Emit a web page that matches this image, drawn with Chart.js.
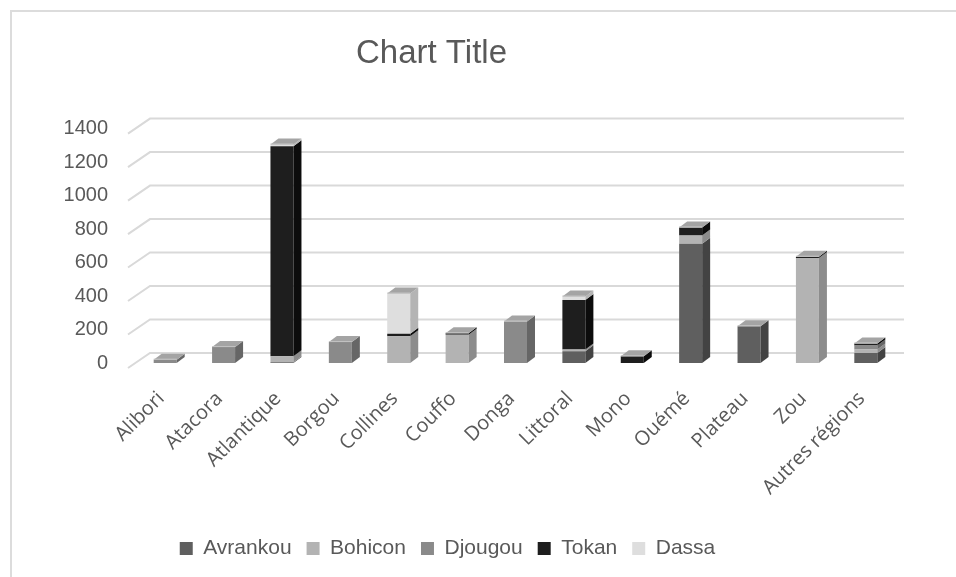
<!DOCTYPE html>
<html>
<head>
<meta charset="utf-8">
<script src="https://cdn.jsdelivr.net/npm/chart.js@4.4.0/dist/chart.umd.min.js"></script>
<style>
html, body { margin: 0; padding: 0; background: #fff; }
#wrap { position: relative; width: 956px; height: 577px; overflow: hidden; }
#frame { position: absolute; left: 10px; top: 10px; width: 1000px; height: 1000px; border-left: 2px solid #dcdcdc; border-top: 2px solid #dcdcdc; }
#myChart { position: absolute; left: 0; top: 0; }
</style>
</head>
<body>
<div id="wrap">
  <div id="frame"></div>
  <canvas id="myChart" width="956" height="577"></canvas>
</div>
<script>
// catégories (régions)
const regions = ['Alibori', 'Atacora', 'Atlantique', 'Borgou', 'Collines', 'Couffo', 'Donga',
                 'Littoral', 'Mono', 'Ouémé', 'Plateau', 'Zou', 'Autres régions'];

// valeurs
const avrankou = [0, 0, 5, 0, 0, 0, 0, 70, 0, 712, 220, 0, 60];
const bohicon  = [0, 0, 35, 0, 160, 168, 0, 10, 0, 49, 0, 627, 20];
const djougou  = [20, 95, 0, 125, 0, 0, 248, 0, 0, 0, 0, 0, 25];
const tokan    = [0, 0, 1255, 0, 15, 10, 0, 297, 40, 49, 0, 8, 12];
const dassa    = [0, 0, 10, 0, 240, 0, 0, 20, 0, 0, 0, 0, 0];

const yMax = 1400;
const yStep = 200;

// couleurs (face avant / face latérale)
const fronts = ['#5f5f5f', '#b3b3b3', '#8a8a8a', '#1e1e1e', '#dedede'];
const sides  = ['#434343', '#8c8c8c', '#666666', '#0c0c0c', '#b4b4b4'];
const topFace = '#a4a4a4';
const depthX = 8, depthY = 6;

// mur du fond avec les lignes de quadrillage
const wallGrid = {
    id: 'wallGrid',
    beforeDatasetsDraw(chart) {
        const ctx = chart.ctx;
        const a = chart.chartArea;
        const y = chart.scales.y;
        ctx.save();
        ctx.strokeStyle = '#d9d9d9';
        ctx.lineWidth = 2;
        y.ticks.forEach(t => {
            const py = y.getPixelForValue(t.value);
            ctx.beginPath();
            ctx.moveTo(a.left - 8, py + 5);
            ctx.lineTo(a.left + 14, py - 10);
            ctx.lineTo(a.right + 9, py - 10);
            ctx.stroke();
        });
        ctx.restore();
    }
};

// faces latérales et dessus des colonnes (effet 3D)
const bars3d = {
    id: 'bars3d',
    afterDatasetsDraw(chart) {
        const ctx = chart.ctx;
        ctx.save();
        const tops = {};
        chart.data.datasets.forEach((ds, di) => {
            const meta = chart.getDatasetMeta(di);
            meta.data.forEach((el, i) => {
                if (!ds.data[i]) return;
                const p = el.getProps(['x', 'y', 'base', 'width'], true);
                const r = p.x + p.width / 2;
                ctx.fillStyle = sides[di];
                ctx.beginPath();
                ctx.moveTo(r, p.y);
                ctx.lineTo(r + depthX, p.y - depthY);
                ctx.lineTo(r + depthX, p.base - depthY);
                ctx.lineTo(r, p.base);
                ctx.closePath();
                ctx.fill();
                tops[i] = p;
            });
        });
        Object.values(tops).forEach(p => {
            const l = p.x - p.width / 2, r = p.x + p.width / 2;
            ctx.fillStyle = topFace;
            ctx.beginPath();
            ctx.moveTo(l, p.y);
            ctx.lineTo(l + depthX, p.y - depthY);
            ctx.lineTo(r + depthX, p.y - depthY);
            ctx.lineTo(r, p.y);
            ctx.closePath();
            ctx.fill();
            ctx.strokeStyle = '#c4c4c4';
            ctx.lineWidth = 1;
            ctx.beginPath();
            ctx.moveTo(l, p.y - 0.5);
            ctx.lineTo(r, p.y - 0.5);
            ctx.stroke();
        });
        ctx.restore();
    }
};

// décalage du titre vers la gauche comme sur l'original
const titleShift = {
    id: 'titleShift',
    afterLayout(chart) {
        if (chart.titleBlock) {
            chart.titleBlock.left -= 16;
            chart.titleBlock.right -= 16;
        }
    }
};

function makeSet(label, data, i) {
    return {
        label: label,
        data: data,
        backgroundColor: fronts[i],
        borderWidth: 0,
        barPercentage: 0.394,
        categoryPercentage: 1
    };
}

document.addEventListener('DOMContentLoaded', function() {
    const ctx = document.getElementById('myChart').getContext('2d');
    new Chart(ctx, {
        type: 'bar',
        data: {
            labels: regions,
            datasets: [
                makeSet('Avrankou', avrankou, 0),
                makeSet('Bohicon', bohicon, 1),
                makeSet('Djougou', djougou, 2),
                makeSet('Tokan', tokan, 3),
                makeSet('Dassa', dassa, 4)
            ]
        },
        options: {
            responsive: false,
            animation: false,
            layout: { padding: { left: 0, right: 61, top: 0, bottom: 8 } },
            plugins: {
                title: {
                    display: true,
                    text: 'Chart Title',
                    color: '#595959',
                    font: { family: '"Liberation Sans", Arial, sans-serif', size: 33, weight: 'normal' },
                    padding: { top: 34, bottom: 55 }
                },
                legend: {
                    position: 'bottom',
                    labels: {
                        boxWidth: 13,
                        boxHeight: 13,
                        padding: 15,
                        color: '#595959',
                        font: { family: '"Liberation Sans", Arial, sans-serif', size: 21 }
                    }
                },
                tooltip: { enabled: false }
            },
            scales: {
                x: {
                    stacked: true,
                    grid: { display: false, drawTicks: false },
                    border: { display: false },
                    ticks: {
                        autoSkip: false,
                        maxRotation: 45,
                        minRotation: 45,
                        padding: 24,
                        labelOffset: -4,
                        color: '#595959',
                        font: { family: '"Open Sans", sans-serif', size: 20 }
                    },
                    afterFit(scale) { scale.height = 160; }
                },
                y: {
                    stacked: true,
                    min: 0,
                    max: yMax,
                    grid: { display: false, drawTicks: false },
                    border: { display: false },
                    ticks: {
                        stepSize: yStep,
                        padding: 28,
                        color: '#595959',
                        font: { family: '"Liberation Sans", Arial, sans-serif', size: 20 },
                        callback: v => String(v)
                    },
                    afterFit(scale) { scale.width = 136; }
                }
            }
        },
        plugins: [wallGrid, bars3d, titleShift]
    });
});
</script>
</body>
</html>
